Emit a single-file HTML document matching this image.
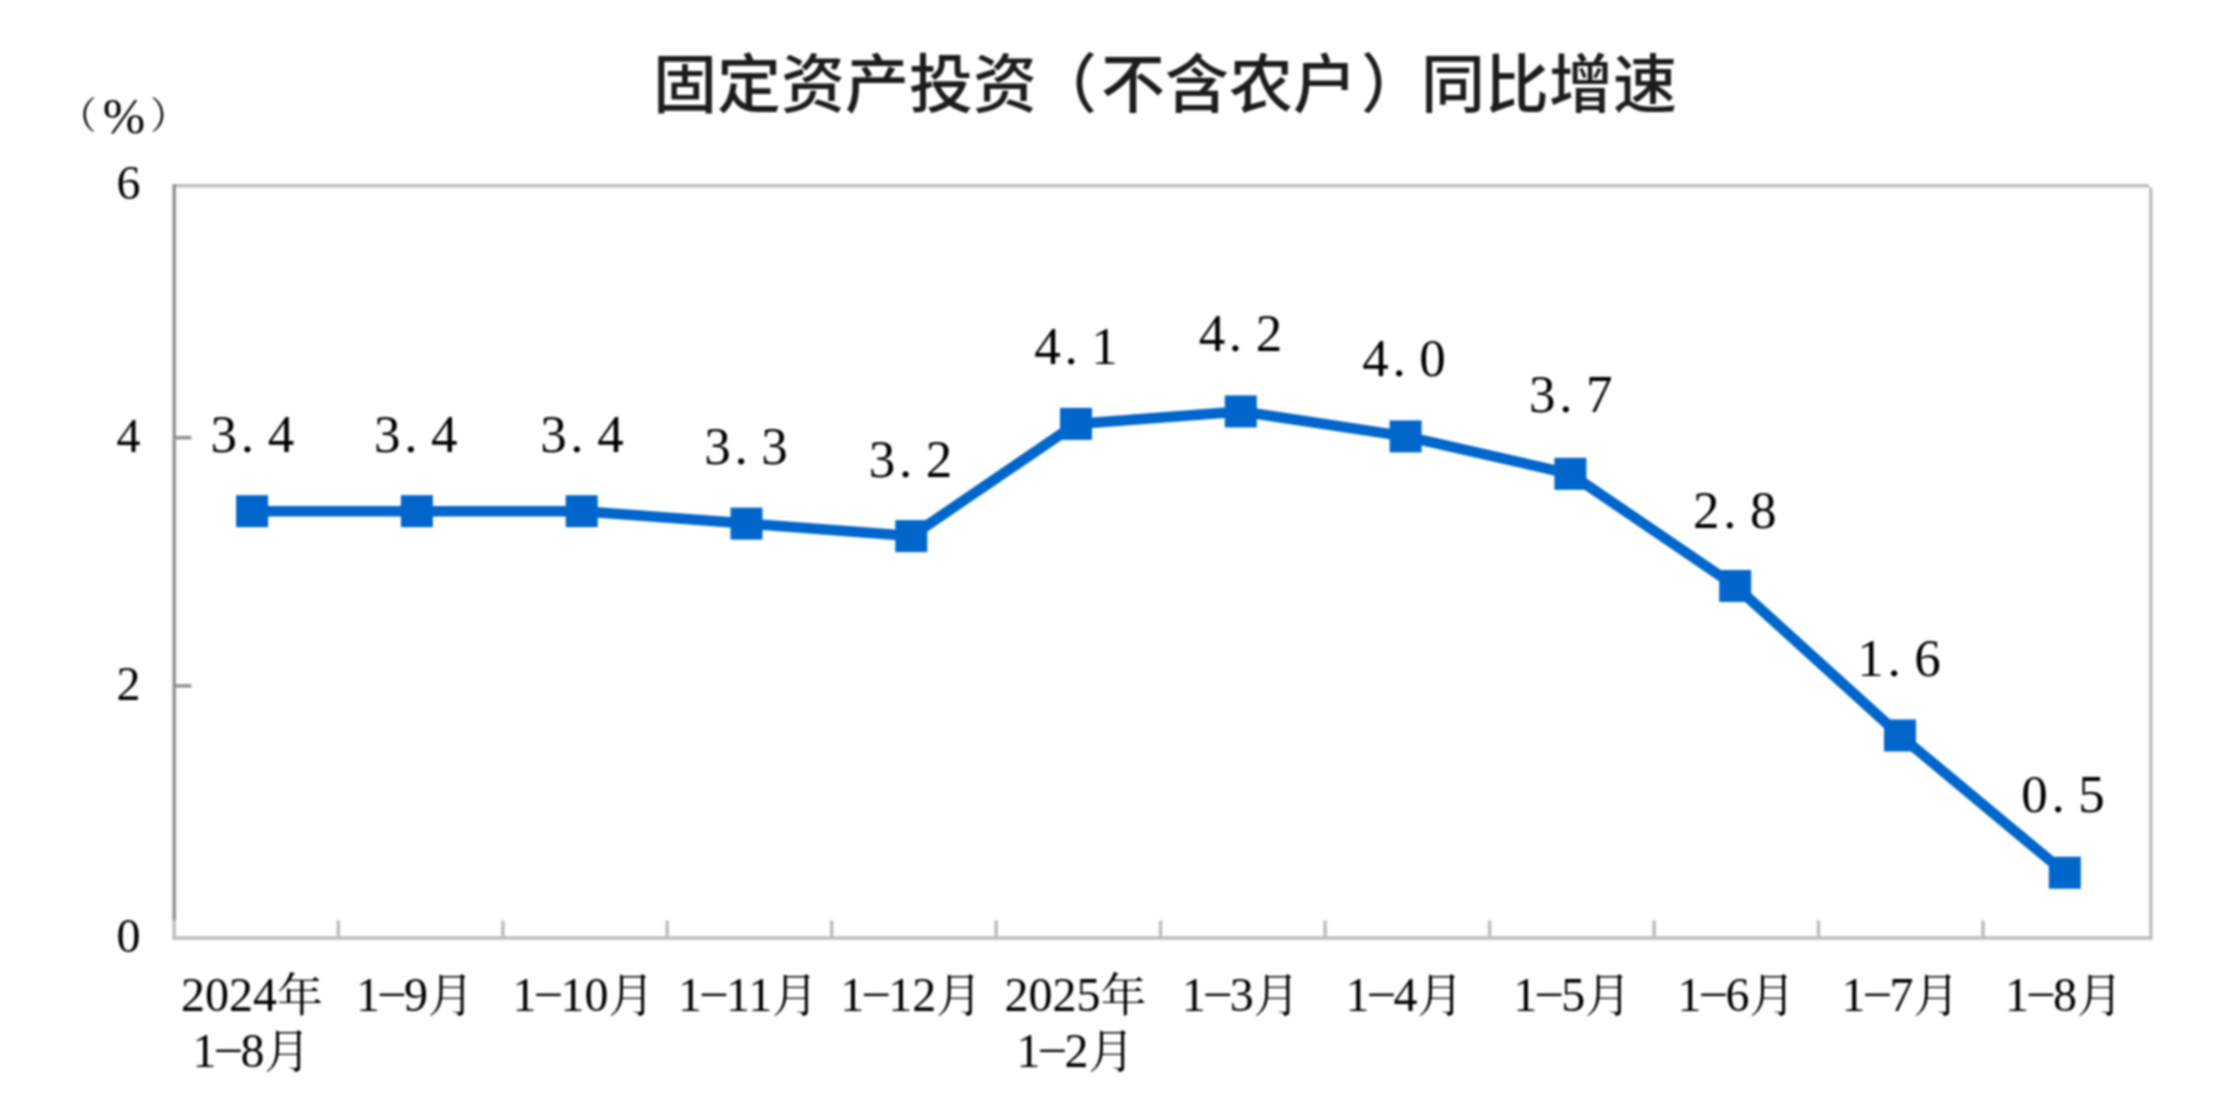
<!DOCTYPE html>
<html lang="zh-CN"><head><meta charset="utf-8"><title>固定资产投资（不含农户）同比增速</title>
<style>
html,body{margin:0;padding:0;background:#fff;}
body{width:2218px;height:1112px;overflow:hidden;}
svg{display:block;}
#w{filter:blur(1px);width:2218px;height:1112px;}
text{fill:#000;}
.title{font-family:"Liberation Sans","Noto Sans CJK SC",sans-serif;font-size:64px;font-weight:500;fill:#1c1c1c;}
.dl text{font-family:"Liberation Serif","Noto Serif CJK SC",serif;font-size:53px;}
.yl text{font-family:"Liberation Serif",serif;font-size:48px;}
.xl text{font-family:"Liberation Serif","Noto Serif CJK SC",serif;font-size:48px;}
.xl .c{font-size:46px;}
.unit text{font-family:"Noto Serif CJK SC",serif;font-size:46px;}
</style></head><body>
<div id="w"><svg width="2218" height="1112" viewBox="0 0 2218 1112">
<rect width="2218" height="1112" fill="#fff"/>
<line x1="172.5" y1="185.8" x2="2149.3" y2="185.8" stroke="#bdbdbd" stroke-width="3.5"/>
<line x1="2150.8" y1="187.5" x2="2150.8" y2="939.4" stroke="#bdbdbd" stroke-width="3.5"/>
<line x1="172.5" y1="938" x2="2152.3" y2="938" stroke="#bdbdbd" stroke-width="3.5"/>
<line x1="174.2" y1="920" x2="174.2" y2="939.5" stroke="#bdbdbd" stroke-width="3.5"/>
<line x1="174.2" y1="184.3" x2="174.2" y2="920" stroke="#909090" stroke-width="3.5"/>
<line x1="174.2" y1="437.7" x2="191.5" y2="437.7" stroke="#909090" stroke-width="3.5"/>
<line x1="174.2" y1="685.9" x2="191.5" y2="685.9" stroke="#909090" stroke-width="3.5"/>
<line x1="338.3" y1="920.5" x2="338.3" y2="938" stroke="#bdbdbd" stroke-width="3.5"/>
<line x1="502.8" y1="920.5" x2="502.8" y2="938" stroke="#bdbdbd" stroke-width="3.5"/>
<line x1="667.2" y1="920.5" x2="667.2" y2="938" stroke="#bdbdbd" stroke-width="3.5"/>
<line x1="831.7" y1="920.5" x2="831.7" y2="938" stroke="#bdbdbd" stroke-width="3.5"/>
<line x1="996.2" y1="920.5" x2="996.2" y2="938" stroke="#bdbdbd" stroke-width="3.5"/>
<line x1="1160.6" y1="920.5" x2="1160.6" y2="938" stroke="#bdbdbd" stroke-width="3.5"/>
<line x1="1325.1" y1="920.5" x2="1325.1" y2="938" stroke="#bdbdbd" stroke-width="3.5"/>
<line x1="1489.6" y1="920.5" x2="1489.6" y2="938" stroke="#bdbdbd" stroke-width="3.5"/>
<line x1="1654.1" y1="920.5" x2="1654.1" y2="938" stroke="#bdbdbd" stroke-width="3.5"/>
<line x1="1818.5" y1="920.5" x2="1818.5" y2="938" stroke="#bdbdbd" stroke-width="3.5"/>
<line x1="1983.0" y1="920.5" x2="1983.0" y2="938" stroke="#bdbdbd" stroke-width="3.5"/>
<polyline points="252.1,511.2 416.9,511.2 581.7,511.2 746.5,523.6 911.3,536.1 1076.0,423.9 1240.8,411.4 1405.6,436.4 1570.4,473.8 1735.2,586.0 1900.0,735.5 2064.8,872.7" fill="none" stroke="#0066cc" stroke-width="10.5" stroke-linejoin="round"/>
<rect x="236.1" y="495.2" width="32" height="32" fill="#0066cc"/>
<rect x="400.9" y="495.2" width="32" height="32" fill="#0066cc"/>
<rect x="565.7" y="495.2" width="32" height="32" fill="#0066cc"/>
<rect x="730.5" y="507.6" width="32" height="32" fill="#0066cc"/>
<rect x="895.3" y="520.1" width="32" height="32" fill="#0066cc"/>
<rect x="1060.0" y="407.9" width="32" height="32" fill="#0066cc"/>
<rect x="1224.8" y="395.4" width="32" height="32" fill="#0066cc"/>
<rect x="1389.6" y="420.4" width="32" height="32" fill="#0066cc"/>
<rect x="1554.4" y="457.8" width="32" height="32" fill="#0066cc"/>
<rect x="1719.2" y="570.0" width="32" height="32" fill="#0066cc"/>
<rect x="1884.0" y="719.5" width="32" height="32" fill="#0066cc"/>
<rect x="2048.8" y="856.7" width="32" height="32" fill="#0066cc"/>
<g class="dl" text-anchor="middle"><text y="452.1"><tspan x="223.8">3</tspan><tspan x="247.3">.</tspan><tspan x="280.9">4</tspan></text><text y="452.3"><tspan x="387.3">3</tspan><tspan x="410.8">.</tspan><tspan x="444.3">4</tspan></text><text y="451.7"><tspan x="553.4">3</tspan><tspan x="576.9">.</tspan><tspan x="610.4">4</tspan></text><text y="464.4"><tspan x="717.6">3</tspan><tspan x="741.1">.</tspan><tspan x="774.6">3</tspan></text><text y="476.7"><tspan x="882.1">3</tspan><tspan x="905.6">.</tspan><tspan x="939.1">2</tspan></text><text y="364.0"><tspan x="1047.5">4</tspan><tspan x="1071.0">.</tspan><tspan x="1104.5">1</tspan></text><text y="351.3"><tspan x="1211.9">4</tspan><tspan x="1235.4">.</tspan><tspan x="1268.9">2</tspan></text><text y="376.2"><tspan x="1375.6">4</tspan><tspan x="1399.1">.</tspan><tspan x="1432.6">0</tspan></text><text y="411.9"><tspan x="1542.3">3</tspan><tspan x="1565.8">.</tspan><tspan x="1599.3">7</tspan></text><text y="528.3"><tspan x="1706.3">2</tspan><tspan x="1729.8">.</tspan><tspan x="1763.3">8</tspan></text><text y="675.5"><tspan x="1870.5">1</tspan><tspan x="1894.0">.</tspan><tspan x="1927.5">6</tspan></text><text y="812.3"><tspan x="2034.5">0</tspan><tspan x="2058.0">.</tspan><tspan x="2091.5">5</tspan></text></g>
<g class="yl" text-anchor="end"><text x="140.5" y="199.2">6</text><text x="140.5" y="451.5">4</text><text x="140.5" y="699.9">2</text><text x="140.5" y="952.1">0</text></g>
<g class="xl" text-anchor="middle"><text x="252.1" y="1011">2024<tspan class="c">年</tspan></text><text x="251.6" y="1067">1<tspan baseline-shift="5">–</tspan>8<tspan class="c">月</tspan></text><text x="415.0" y="1011">1<tspan baseline-shift="5">–</tspan>9<tspan class="c">月</tspan></text><text x="583.4" y="1011">1<tspan baseline-shift="5">–</tspan>10<tspan class="c">月</tspan></text><text x="748.1" y="1011">1<tspan baseline-shift="5">–</tspan>11<tspan class="c">月</tspan></text><text x="911.3" y="1011">1<tspan baseline-shift="5">–</tspan>12<tspan class="c">月</tspan></text><text x="1075.4" y="1011">2025<tspan class="c">年</tspan></text><text x="1075.5" y="1067">1<tspan baseline-shift="5">–</tspan>2<tspan class="c">月</tspan></text><text x="1240.8" y="1011">1<tspan baseline-shift="5">–</tspan>3<tspan class="c">月</tspan></text><text x="1404.4" y="1011">1<tspan baseline-shift="5">–</tspan>4<tspan class="c">月</tspan></text><text x="1572.2" y="1011">1<tspan baseline-shift="5">–</tspan>5<tspan class="c">月</tspan></text><text x="1736.6" y="1011">1<tspan baseline-shift="5">–</tspan>6<tspan class="c">月</tspan></text><text x="1900.4" y="1011">1<tspan baseline-shift="5">–</tspan>7<tspan class="c">月</tspan></text><text x="2064.1" y="1011">1<tspan baseline-shift="5">–</tspan>8<tspan class="c">月</tspan></text></g>
<g class="unit"><text x="59" y="128.5" style="font-size:37.5px">（</text><text x="124" y="132.6" text-anchor="middle" style="font-family:&quot;Liberation Serif&quot;,serif;font-size:51px">%</text><text x="150.2" y="128.5" style="font-size:37.5px">）</text></g>
<text class="title" x="1165" y="107" text-anchor="middle">固定资产投资<tspan dx="-4">（</tspan><tspan dx="4">不含农户</tspan><tspan dx="4">）</tspan><tspan dx="-4">同比增速</tspan></text>
</svg></div>
</body></html>
